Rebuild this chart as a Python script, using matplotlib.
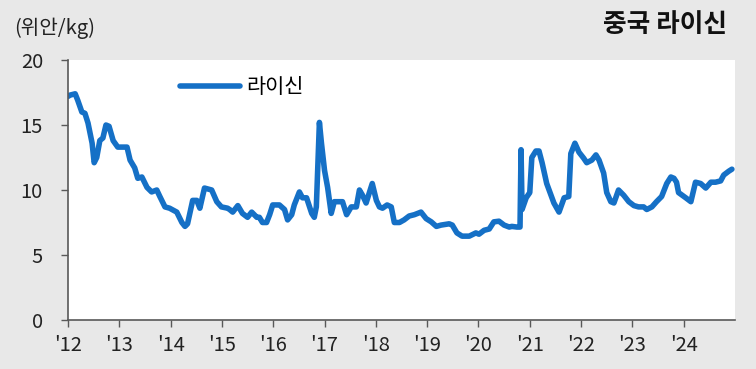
import matplotlib
matplotlib.use("Agg")
import matplotlib.pyplot as plt

plt.rcParams['font.family'] = ['Noto Sans CJK KR', 'DejaVu Sans']

# Decimal year and price (위안/kg)
years = [2012.00, 2012.04, 2012.14, 2012.19, 2012.27, 2012.33, 2012.39, 2012.47, 2012.51, 2012.56,
         2012.62, 2012.68, 2012.74, 2012.80, 2012.88, 2012.97, 2013.15, 2013.21, 2013.30, 2013.36,
         2013.44, 2013.54, 2013.63, 2013.73, 2013.79, 2013.89, 2013.98, 2014.12, 2014.22, 2014.28,
         2014.33, 2014.43, 2014.51, 2014.57, 2014.66, 2014.80, 2014.90, 2014.99, 2015.11, 2015.15,
         2015.21, 2015.31, 2015.40, 2015.50, 2015.58, 2015.68, 2015.73, 2015.79, 2015.87, 2015.93,
         2015.99, 2016.12, 2016.22, 2016.28, 2016.36, 2016.41, 2016.51, 2016.57, 2016.65, 2016.75,
         2016.80, 2016.84, 2016.90, 2016.94, 2017.00, 2017.06, 2017.13, 2017.19, 2017.29, 2017.35,
         2017.43, 2017.52, 2017.62, 2017.68, 2017.74, 2017.81, 2017.93, 2018.01, 2018.07, 2018.13,
         2018.22, 2018.30, 2018.36, 2018.46, 2018.55, 2018.65, 2018.75, 2018.88, 2018.98, 2019.08,
         2019.18, 2019.27, 2019.43, 2019.49, 2019.58, 2019.68, 2019.82, 2019.95, 2020.01, 2020.11,
         2020.21, 2020.30, 2020.40, 2020.50, 2020.60, 2020.65, 2020.75, 2020.81, 2020.83, 2020.85,
         2020.93, 2021.00, 2021.04, 2021.12, 2021.18, 2021.24, 2021.33, 2021.47, 2021.57, 2021.67,
         2021.76, 2021.80, 2021.88, 2021.96, 2022.05, 2022.11, 2022.21, 2022.29, 2022.35, 2022.44,
         2022.50, 2022.58, 2022.64, 2022.73, 2022.83, 2022.93, 2023.03, 2023.12, 2023.22, 2023.28,
         2023.38, 2023.47, 2023.57, 2023.67, 2023.75, 2023.81, 2023.86, 2023.90, 2024.04, 2024.14,
         2024.23, 2024.33, 2024.43, 2024.53, 2024.62, 2024.72, 2024.78, 2024.88, 2024.94]
prices = [17.2, 17.3, 17.4, 16.9, 16.0, 15.9, 15.15, 13.6, 12.1, 12.5,
          13.8, 14.0, 15.0, 14.9, 13.8, 13.3, 13.3, 12.3, 11.7, 10.9,
          11.0, 10.2, 9.85, 10.0, 9.5, 8.7, 8.6, 8.3, 7.5, 7.2,
          7.4, 9.2, 9.2, 8.6, 10.15, 10.0, 9.1, 8.7, 8.6, 8.5,
          8.3, 8.8, 8.2, 7.9, 8.3, 7.9, 7.9, 7.5, 7.5, 8.1,
          8.85, 8.85, 8.5, 7.7, 8.1, 8.85, 9.85, 9.4, 9.4, 8.2,
          7.9, 8.7, 15.2, 13.6, 11.5, 10.2, 8.2, 9.1, 9.1, 9.1,
          8.1, 8.7, 8.7, 10.0, 9.6, 9.0, 10.5, 9.2, 8.7, 8.6,
          8.85, 8.7, 7.5, 7.5, 7.7, 8.0, 8.1, 8.3, 7.8, 7.55,
          7.2, 7.3, 7.4, 7.3, 6.7, 6.45, 6.45, 6.7, 6.6, 6.9,
          7.0, 7.55, 7.6, 7.3, 7.15, 7.2, 7.15, 7.15, 13.1, 8.5,
          9.4, 9.8, 12.5, 13.0, 13.0, 12.1, 10.5, 9.0, 8.3, 9.4,
          9.5, 12.8, 13.6, 12.9, 12.45, 12.1, 12.3, 12.7, 12.3, 11.3,
          9.8, 9.1, 9.0, 10.0, 9.6, 9.1, 8.8, 8.7, 8.7, 8.5,
          8.7, 9.1, 9.5, 10.5, 11.0, 10.9, 10.6, 9.8, 9.4, 9.1,
          10.6, 10.5, 10.15, 10.6, 10.6, 10.7, 11.15, 11.45, 11.6]

tick_years = list(range(2012, 2025))
tick_labels = ["'12", "'13", "'14", "'15", "'16", "'17", "'18", "'19", "'20", "'21", "'22", "'23", "'24"]
y_ticks = [0, 5, 10, 15, 20]

fig = plt.figure(figsize=(7.56, 3.69), dpi=100, facecolor='#e8e8e8')
ax = fig.add_axes([68/756, 49/369, 667/756, 260/369])
ax.set_facecolor('white')

line_color = '#1570c6'
ax.plot(years, prices, color=line_color, lw=4.0, solid_joinstyle='round',
        solid_capstyle='round', label='라이신')

ax.set_xlim(2012, 2025)
ax.set_ylim(0, 20)
ax.set_xticks(tick_years)
ax.set_xticklabels(tick_labels)
ax.set_yticks(y_ticks)

for s in ['top', 'right']:
    ax.spines[s].set_visible(False)
for s in ['left', 'bottom']:
    ax.spines[s].set_color('#595959')
    ax.spines[s].set_linewidth(1.2)

ax.tick_params(axis='x', length=5, width=1, color='#595959', pad=6, labelsize=14.5, labelcolor='#222222')
ax.tick_params(axis='y', length=5, width=1, color='#595959', pad=13, labelsize=14.5, labelcolor='#222222')

ax.legend(loc='center left', bbox_to_anchor=(0.168, 0.896), frameon=False,
          fontsize=15, handlelength=2.9, handletextpad=0.3, borderpad=0, borderaxespad=0)

fig.text(14/756, 1 - 28/369, '(위안/kg)', fontsize=14.5, va='center', ha='left', color='#222222')
fig.text(727/756, 1 - 24/369, '중국 라이신', fontsize=18.5, fontweight='bold', va='center', ha='right',
         color='#111111')

fig.savefig('out.png', dpi=100, facecolor=fig.get_facecolor())
